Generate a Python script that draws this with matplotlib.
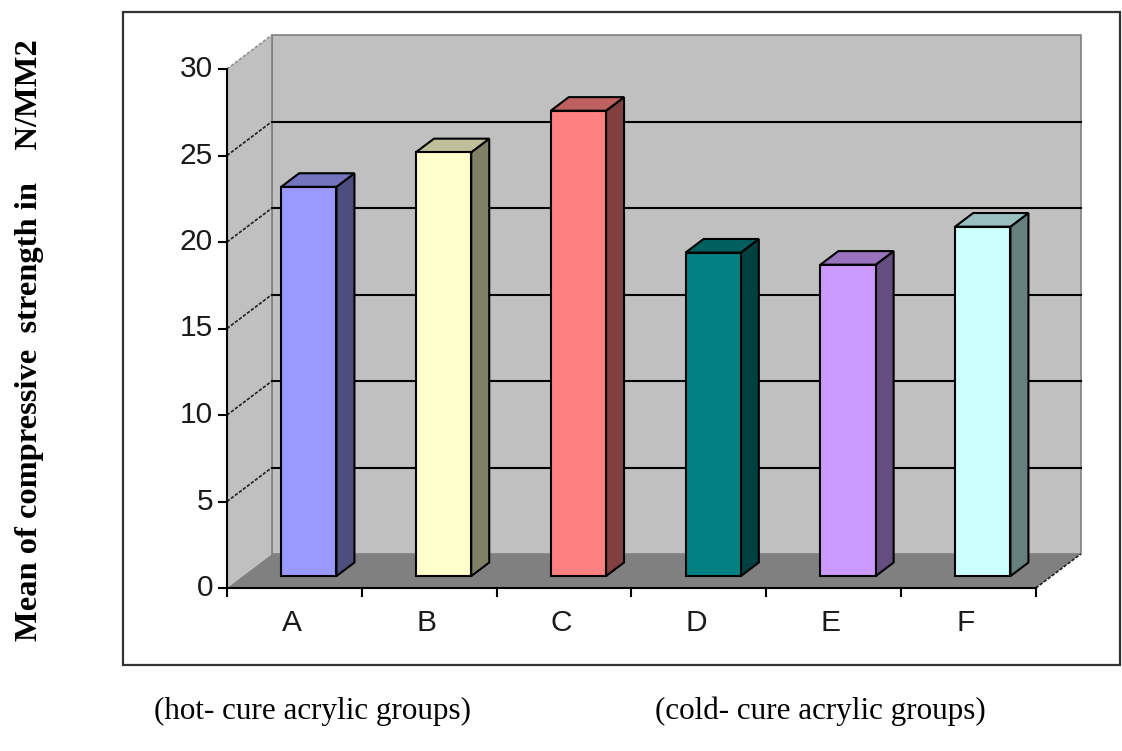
import matplotlib
matplotlib.use("Agg")
import matplotlib.pyplot as plt
from matplotlib.patches import Polygon, Rectangle

# data
categories = ['A', 'B', 'C', 'D', 'E', 'F']
strength = [22.5, 24.5, 26.9, 18.7, 18.0, 20.2]
face_colors = ['#9999FF', '#FFFFCC', '#FF8080', '#008080', '#CC99FF', '#CCFFFF']
y_ticks = [0, 5, 10, 15, 20, 25, 30]
group_labels = ['(hot- cure acrylic groups)', '(cold- cure acrylic groups)']
y_title = 'Mean of compressive  strength in    N/MM2'

W, H = 1122, 751
fig = plt.figure(figsize=(W / 100, H / 100), dpi=100)
ax = fig.add_axes([0, 0, 1, 1])

# pixel geometry of the front plane: x=0 at px 227, one category = 134.8 px
# y=0 at px 588, one unit = 17.3 px
X0, SX = 227, 134.8
Y0, SY = 588, 17.3
ax.set_xlim(-X0 / SX, (W - X0) / SX)
ax.set_ylim(-(H - Y0) / SY, Y0 / SY)
ax.axis('off')

# depth offset (full depth of the 3d box)
DX = 45 / SX
DY = 34 / SY
n = len(categories)
ymax = 30


def pt(x, y, d):
    return (x + d * DX, y + d * DY)


def shade(c, f):
    c = matplotlib.colors.to_rgb(c)
    return tuple(v * f for v in c)


wall = '#C0C0C0'
# back wall
ax.add_patch(Polygon([pt(0, 0, 1), pt(n, 0, 1), pt(n, ymax, 1), pt(0, ymax, 1)],
                     closed=True, fc=wall, ec='#808080', lw=1.2, zorder=1))
# left wall
ax.add_patch(Polygon([pt(0, 0, 0), pt(0, 0, 1), pt(0, ymax, 1), pt(0, ymax, 0)],
                     closed=True, fc=wall, ec='none', zorder=1))
ax.plot(*zip(pt(0, 0, 1), pt(0, ymax, 1)), color='#808080', lw=1.2, zorder=2)
ax.plot(*zip(pt(0, ymax, 0), pt(0, ymax, 1)), color='#909090', lw=1.2,
        ls=(0, (2, 1)), zorder=2)
# floor
ax.add_patch(Polygon([pt(0, 0, 0), pt(0, 0, 1), pt(n, 0, 1), pt(n, 0, 0)],
                     closed=True, fc='#808080', ec='none', zorder=1))
ax.plot(*zip(pt(n, 0, 0), pt(n, 0, 1)), color='#202020', lw=1.2,
        ls=(0, (2, 1)), zorder=2)

# gridlines
for v in y_ticks[1:-1]:
    ax.plot(*zip(pt(0, v, 1), pt(n, v, 1)), color='black', lw=1.5, zorder=2)
    ax.plot(*zip(pt(0, v, 0), pt(0, v, 1)), color='#202020', lw=1.2,
            ls=(0, (2, 1)), zorder=2)

# bars
d0, d1 = 0.35, 0.75
bw = 0.41
for k, (v, c) in enumerate(zip(strength, face_colors)):
    x0 = k + 0.49 - bw / 2
    x1 = k + 0.49 + bw / 2
    front = [pt(x0, 0, d0), pt(x1, 0, d0), pt(x1, v, d0), pt(x0, v, d0)]
    side = [pt(x1, 0, d0), pt(x1, 0, d1), pt(x1, v, d1), pt(x1, v, d0)]
    top = [pt(x0, v, d0), pt(x1, v, d0), pt(x1, v, d1), pt(x0, v, d1)]
    ax.add_patch(Polygon(side, closed=True, fc=shade(c, 0.5), ec='black', lw=1.5, zorder=3))
    ax.add_patch(Polygon(top, closed=True, fc=shade(c, 0.75), ec='black', lw=1.5, zorder=3))
    ax.add_patch(Polygon(front, closed=True, fc=c, ec='black', lw=1.5, zorder=4))

# axes lines and ticks
ax.plot([0, 0], [0, ymax], color='black', lw=1.5, zorder=5)
ax.plot([0, n], [0, 0], color='black', lw=1.5, zorder=5)
tx = 8 / SX
ty = 8 / SY
for v in y_ticks:
    ax.plot([-tx, 0], [v, v], color='black', lw=1.5, zorder=5)
    ax.text(-14 / SX, v, str(v), ha='right', va='center', fontsize=21.5,
            family='Liberation Sans', color='#1a1a1a')
for k in range(n + 1):
    ax.plot([k, k], [0, -ty], color='black', lw=1.5, zorder=5)
for k, lab in enumerate(categories):
    ax.text(k + 0.48, -35 / SY, lab, ha='center', va='center', fontsize=21.5,
            family='Liberation Sans', color='#1a1a1a')

# chart frame
fig.patches.append(Rectangle((123 / W, 1 - 665 / H), (1120 - 123) / W, (665 - 12) / H,
                             transform=fig.transFigure, fill=False, ec='#333333', lw=1.6))

# outside labels
fig.text(30 / W, 1 - 340 / H, y_title, rotation=90, ha='center', va='center',
         fontsize=23.4, fontweight='bold', family='Liberation Serif')
fig.text(312 / W, 1 - 711 / H, group_labels[0], ha='center', va='center',
         fontsize=22.4, family='Liberation Serif')
fig.text(820 / W, 1 - 711 / H, group_labels[1], ha='center', va='center',
         fontsize=22.4, family='Liberation Serif')

fig.savefig('out.png', dpi=100)
